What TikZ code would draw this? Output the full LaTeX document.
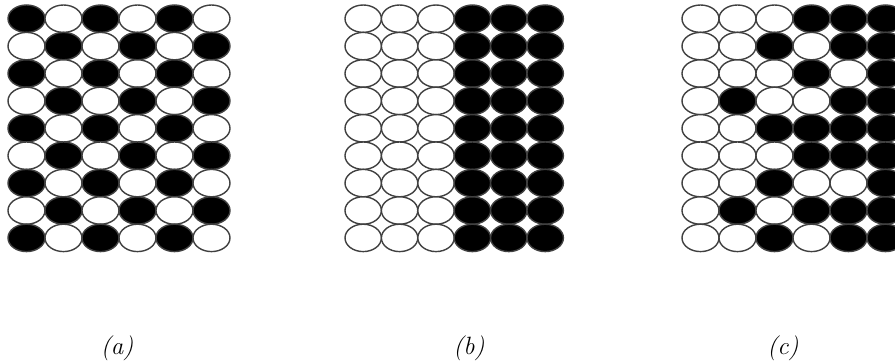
\documentclass[tikz,border=0pt]{standalone}
\usepackage{fontspec}
\usetikzlibrary{shapes.geometric}
\begin{document}
\begin{tikzpicture}[x=1pt,y=-1pt,
  dot/.style={ellipse,draw=black!75,line width=1.4pt,minimum width=37pt,minimum height=27.4pt,inner sep=0pt},
  on/.style={dot,fill=black},
  off/.style={dot,fill=white},
  lab/.style={font=\fontsize{25}{30}\selectfont\itshape,inner sep=0pt}]
\useasboundingbox (0,0) rectangle (895,361);
\begin{scope}
\clip (0,0) rectangle (895,361);
% panel (a): checkerboard
\foreach \r in {1,...,9}{
  \foreach \c in {1,...,6}{
    \pgfmathtruncatemacro\v{mod(\r+\c,2)}
    \ifnum\v=0
      \node[on] (a-\r-\c) at ({26.5+37*(\c-1)},{18.7+27.4*(\r-1)}) {};
    \else
      \node[off] (a-\r-\c) at ({26.5+37*(\c-1)},{18.7+27.4*(\r-1)}) {};
    \fi
  }
}
% panel (b): half white, half black
\foreach \r in {1,...,9}{
  \foreach \c in {1,...,6}{
    \ifnum\c>3
      \node[on,minimum width=36.4pt] (b-\r-\c) at ({363.2+36.4*(\c-1)},{18.7+27.4*(\r-1)}) {};
    \else
      \node[off,minimum width=36.4pt] (b-\r-\c) at ({363.2+36.4*(\c-1)},{18.7+27.4*(\r-1)}) {};
    \fi
  }
}
% panel (c)
\foreach \row [count=\r] in {{0,0,0,1,1,1},{0,0,1,0,1,1},{0,0,0,1,0,1},{0,1,0,0,1,1},{0,0,1,1,1,1},{0,0,0,1,1,1},{0,0,1,0,0,1},{0,1,0,1,1,1},{0,0,1,0,1,1}}{
  \foreach \v [count=\c] in \row {
    \ifnum\v=1
      \node[on] (c-\r-\c) at ({700.5+37*(\c-1)},{18.7+27.4*(\r-1)}) {};
    \else
      \node[off] (c-\r-\c) at ({700.5+37*(\c-1)},{18.7+27.4*(\r-1)}) {};
    \fi
  }
}
\end{scope}
\node[lab] (la) at (117,348) {(a)};
\node[lab] (lb) at (469,348) {(b)};
\node[lab] (lc) at (783,348) {(c)};
\end{tikzpicture}
\end{document}
